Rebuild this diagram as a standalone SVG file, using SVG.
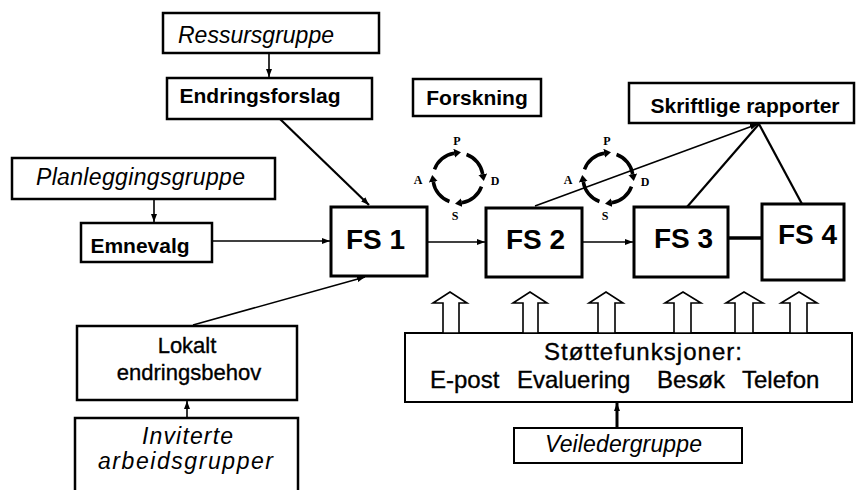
<svg xmlns="http://www.w3.org/2000/svg" width="856" height="490" viewBox="0 0 856 490">
<style>
.box{fill:#fff;stroke:#000;stroke-width:2.5}
.fs{fill:#fff;stroke:#000;stroke-width:3}
.thin{fill:#fff;stroke:#000;stroke-width:2}
.ln{fill:none;stroke:#000;stroke-width:1.6}
.lnb{fill:none;stroke:#000;stroke-width:2.2}
.arc{fill:none;stroke:#000;stroke-width:3.5}
.hol{fill:#fff;stroke:#000;stroke-width:1.6;stroke-linejoin:miter}
text{font-family:"Liberation Sans",Arial,sans-serif;fill:#000}
.b{font-weight:bold}
.i{font-style:italic;font-size:23px}
.r{font-size:24px;stroke:#000;stroke-width:0.35}
.lk{font-size:22px;stroke:#000;stroke-width:0.35;text-anchor:middle}
.fst{font-weight:bold;font-size:28px;text-anchor:middle}
.pd{font-family:"Liberation Serif","Times New Roman",serif;font-weight:bold;font-size:12px;text-anchor:middle}
</style>
<defs>
<marker id="ah" viewBox="0 0 8 6" refX="8" refY="3" markerWidth="8" markerHeight="6" markerUnits="userSpaceOnUse" orient="auto"><path d="M0,0 L8,3 L0,6 z"/></marker>
<marker id="ca" viewBox="0 0 7 9" refX="0" refY="4.5" markerWidth="7" markerHeight="9" markerUnits="userSpaceOnUse" orient="auto"><path d="M0,0 L7,4.5 L0,9 z"/></marker>
<g id="cycle">
<path class="arc" marker-end="url(#ca)" d="M-23.49,-8.55 A25,25 0 0 1 -3.91,-24.69"/>
<path class="arc" marker-end="url(#ca)" d="M8.55,-23.49 A25,25 0 0 1 24.69,-3.91"/>
<path class="arc" marker-end="url(#ca)" d="M23.49,8.55 A25,25 0 0 1 3.91,24.69"/>
<path class="arc" marker-end="url(#ca)" d="M-8.55,23.49 A25,25 0 0 1 -24.69,3.91"/>
</g>
</defs>

<g id="ressursgruppe"><rect class="box" x="163" y="13" width="216" height="40"/><text class="i" x="178" y="43" textLength="156" lengthAdjust="spacing">Ressursgruppe</text></g>
<g id="endringsforslag"><rect class="box" x="167" y="78" width="205" height="41"/><text class="b" x="260" y="103" font-size="21" text-anchor="middle">Endringsforslag</text></g>
<g id="forskning"><rect class="box" x="413" y="79" width="128" height="37"/><text class="b" x="477" y="105" font-size="21" text-anchor="middle">Forskning</text></g>
<g id="planleggingsgruppe"><rect class="box" x="12" y="158" width="263" height="41"/><text class="i" x="36" y="185" textLength="209" lengthAdjust="spacing">Planleggingsgruppe</text></g>
<g id="emnevalg"><rect class="box" x="81" y="223" width="131" height="39"/><text class="b" x="140" y="253" font-size="21" text-anchor="middle">Emnevalg</text></g>
<g id="fs1"><rect class="fs" x="331" y="207" width="96" height="69"/><text class="fst" x="375.5" y="249">FS 1</text></g>
<g id="fs2"><rect class="fs" x="486" y="208" width="96" height="69"/><text class="fst" x="535.5" y="249">FS 2</text></g>
<g id="fs3"><rect class="fs" x="634" y="207" width="94" height="70"/><text class="fst" x="683.5" y="248">FS 3</text></g>
<g id="fs4"><rect class="fs" x="762" y="204" width="82" height="76"/><text class="fst" x="807.5" y="244">FS 4</text></g>
<g id="skriftlige"><rect class="box" x="629" y="83" width="225" height="40"/><text class="b" x="745" y="113" font-size="21" text-anchor="middle">Skriftlige rapporter</text></g>
<g id="lokalt"><rect class="box" x="77" y="326" width="220" height="74"/><text class="lk" x="187" y="353">Lokalt</text><text class="lk" x="189" y="380">endringsbehov</text></g>
<g id="inviterte"><rect class="box" x="75" y="418" width="223" height="80"/><text class="i" x="142" y="444" textLength="91" lengthAdjust="spacing" font-size="24">Inviterte</text><text class="i" x="98" y="469" textLength="175" lengthAdjust="spacing" font-size="24">arbeidsgrupper</text></g>
<g id="stottefunksjoner"><rect class="thin" x="405" y="333" width="447" height="69"/>
<text class="r" x="544" y="360" textLength="198" lengthAdjust="spacing">Støttefunksjoner:</text>
<text class="r" x="430" y="388">E-post</text>
<text class="r" x="517" y="388">Evaluering</text>
<text class="r" x="657" y="388">Besøk</text>
<text class="r" x="742" y="388">Telefon</text></g>
<g id="veiledergruppe"><rect class="thin" x="514" y="428" width="228" height="35"/><text class="i" x="545" y="452" textLength="157" lengthAdjust="spacing">Veiledergruppe</text></g>

<g id="pdsa1"><use href="#cycle" x="458" y="178"/><text class="pd" x="457" y="145">P</text><text class="pd" x="418" y="184">A</text><text class="pd" x="495" y="185">D</text><text class="pd" x="455" y="220">S</text></g>
<g id="pdsa2"><use href="#cycle" x="608" y="178"/><text class="pd" x="607" y="145">P</text><text class="pd" x="568" y="184">A</text><text class="pd" x="645" y="186">D</text><text class="pd" x="605" y="220">S</text></g>

<g id="support-arrows">
<polygon class="hol" points="443,333 443,303 433,303 450,292 467,303 459,303 459,333"/>
<polygon class="hol" points="523,333 523,303 513,303 530,292 547,303 538,303 538,333"/>
<polygon class="hol" points="598,333 598,303 589,303 606,292 623,303 615,303 615,333"/>
<polygon class="hol" points="674,333 674,303 665,303 683,292 701,303 691,303 691,333"/>
<polygon class="hol" points="735,333 735,303 726,303 744,292 763,303 753,303 753,333"/>
<polygon class="hol" points="790,333 790,303 781,303 799,292 817,303 807,303 807,333"/>
</g>

<g id="connectors">
<line class="ln" x1="269" y1="53" x2="269" y2="77" marker-end="url(#ah)"/>
<line class="ln" x1="154" y1="199" x2="154" y2="222" marker-end="url(#ah)"/>
<line class="lnb" x1="280" y1="119" x2="369" y2="205" marker-end="url(#ah)"/>
<line class="ln" x1="212" y1="241" x2="330" y2="241" marker-end="url(#ah)"/>
<line class="ln" x1="427" y1="242" x2="485" y2="242" marker-end="url(#ah)"/>
<line class="ln" x1="582" y1="242" x2="633" y2="242" marker-end="url(#ah)"/>
<line x1="728" y1="238" x2="762" y2="238" stroke="#000" stroke-width="3.5"/>
<line class="ln" x1="193" y1="325" x2="365" y2="277" marker-end="url(#ah)"/>
<line class="ln" x1="187" y1="418" x2="187" y2="401" marker-end="url(#ah)"/>
<line x1="617" y1="428" x2="617" y2="403" stroke="#000" stroke-width="3" marker-end="url(#ah)"/>
<line class="ln" x1="535" y1="206" x2="758" y2="124" marker-end="url(#ah)"/>
<line class="lnb" x1="687" y1="207" x2="759" y2="124"/>
<line class="lnb" x1="759" y1="124" x2="802" y2="204"/>
</g>
</svg>
